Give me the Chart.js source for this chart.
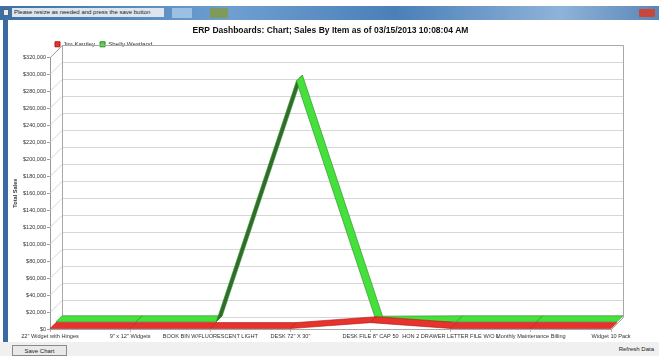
<!DOCTYPE html>
<html lang="en">
<head>
<meta charset="UTF-8">
<title>ERP Dashboards: Chart</title>
<script src="https://cdn.jsdelivr.net/npm/chart.js"></script>
<style>
  body { margin: 0; width: 659px; height: 356px; overflow: hidden; background: #fff;
         font-family: Arial, "Liberation Sans", sans-serif; position: relative; }
  #salesChart { position: absolute; left: 0; top: 0; }
  .titlebar { position: absolute; left: 0; top: 6px; width: 659px; height: 14px;
              background: linear-gradient(to right, #3d6fa6 0%, #6f9fd0 35%, #4a7fb8 60%, #8fb3d8 85%, #5a86b8 100%); }
  .caption { position: absolute; left: 12px; top: 2px; width: 150px; height: 9px; background: #dde6ef;
             font-size: 6px; line-height: 9px; color: #222; padding-left: 2px; white-space: nowrap; }
  .icon { position: absolute; left: 3px; top: 3px; width: 6px; height: 7px; background: #e8eef5; border: 1px solid #567; box-sizing: border-box; }
  .tab1 { position: absolute; left: 172px; top: 2px; width: 20px; height: 10px; background: #9cc0e4; }
  .tab2 { position: absolute; left: 210px; top: 2px; width: 18px; height: 10px; background: #7f9a5a; }
  .close { position: absolute; right: 4px; top: 3px; width: 16px; height: 8px; background: #c8473a; border-radius: 1px; }
  .leftedge { position: absolute; left: 3px; top: 20px; width: 5px; height: 322px; background: #3a6aa3; }
  .bottom { position: absolute; left: 0; top: 342px; width: 659px; height: 14px; background: #f0f0f0; }
  .savebtn { position: absolute; left: 12px; top: 3px; width: 55px; height: 11px; border: 1px solid #8a8a8a;
             background: #e9e9e9; font-size: 6px; line-height: 10px; text-align: center; color: #222; box-sizing: border-box; }
  .refresh { position: absolute; right: 5px; top: 4px; font-size: 6px; color: #222; }
</style>
</head>
<body>
<canvas id="salesChart" width="659" height="356"></canvas>
<div class="titlebar">
  <div class="icon"></div>
  <div class="caption">Please resize as needed and press the save button</div>
  <div class="tab1"></div>
  <div class="tab2"></div>
  <div class="close"></div>
</div>
<div class="leftedge"></div>
<div class="bottom">
  <div class="savebtn">Save Chart</div>
  <div class="refresh">Refresh Data</div>
</div>

<script>
// Items and sales per salesperson
const items = [
  '22" Widget with Hinges',
  '9" x 12" Widgets',
  'BOOK BIN W/FLUORESCENT LIGHT',
  'DESK 72" X 30"',
  'DESK FILE 8" CAP 50',
  'HON 2 DRAWER LETTER FILE W/O L',
  'Monthly Maintenance Billing',
  'Widget 10 Pack'
];
const jimKantley = [500, 500, 500, 500, 7500, 600, 600, 500];
const shellyWestland = [1500, 1500, 1500, 285000, 1000, 1500, 1500, 1500];
const yMax = 320000;
const yStep = 20000;

// 3D box: depth in px, split in one row per series (first series in front)
const DEPTH = 12;

const box3d = {
  id: 'box3d',
  beforeDatasetsDraw(chart) {
    const {ctx, chartArea: a, scales: {y}} = chart;
    ctx.save();
    ctx.lineWidth = 1;
    // back wall gridlines + left wall diagonals
    y.ticks.forEach(t => {
      const py = Math.round(y.getPixelForValue(t.value)) + 0.5;
      ctx.strokeStyle = '#d6d6d6';
      ctx.beginPath();
      ctx.moveTo(a.left, py);
      ctx.lineTo(a.left + DEPTH, py - DEPTH);
      ctx.lineTo(a.right + DEPTH, py - DEPTH);
      ctx.stroke();
    });
    // box edges
    const top = Math.round(a.top) + 0.5, bot = Math.round(a.bottom) + 0.5;
    const l = Math.round(a.left) + 0.5, r = Math.round(a.right) + 0.5;
    ctx.strokeStyle = '#a8a8a8';
    ctx.beginPath();
    ctx.moveTo(l + DEPTH, top - DEPTH);
    ctx.lineTo(l + DEPTH, bot - DEPTH);
    ctx.moveTo(l, top);
    ctx.lineTo(l + DEPTH, top - DEPTH);
    ctx.lineTo(r + DEPTH, top - DEPTH);
    ctx.lineTo(r + DEPTH, bot - DEPTH);
    ctx.lineTo(r, bot);
    ctx.lineTo(l, bot);
    ctx.stroke();
    ctx.restore();
  },
  afterDatasetsDraw(chart) {
    const ctx = chart.ctx;
    const n = chart.data.datasets.length;
    const row = DEPTH / n;
    ctx.save();
    ctx.lineWidth = 0.6;
    ctx.lineJoin = 'round';
    // back row first so the front ribbon covers it
    for (let i = n - 1; i >= 0; i--) {
      const ds = chart.data.datasets[i];
      const pts = chart.getDatasetMeta(i).data;
      const d0 = i * row, d1 = d0 + row;
      for (let k = 0; k < pts.length - 1; k++) {
        const p = pts[k], q = pts[k + 1];
        // facing down when the segment climbs steeper than the depth direction
        const under = -((q.x - p.x) + (q.y - p.y)) > 0;
        ctx.fillStyle = under ? ds.sideColor : ds.backgroundColor;
        ctx.strokeStyle = ds.borderColor;
        ctx.beginPath();
        ctx.moveTo(p.x + d0, p.y - d0);
        ctx.lineTo(q.x + d0, q.y - d0);
        ctx.lineTo(q.x + d1, q.y - d1);
        ctx.lineTo(p.x + d1, p.y - d1);
        ctx.closePath();
        ctx.fill();
        ctx.stroke();
      }
    }
    ctx.restore();
  }
};

new Chart(document.getElementById('salesChart'), {
  type: 'line',
  data: {
    labels: items,
    datasets: [{
      label: 'Jim Kantley',
      data: jimKantley,
      backgroundColor: '#e8322c',
      borderColor: '#a81c18',
      sideColor: '#9a1a16',
      borderWidth: 1,
      showLine: false,
      pointRadius: 0
    }, {
      label: 'Shelly Westland',
      data: shellyWestland,
      backgroundColor: '#46e03c',
      borderColor: '#2a8a24',
      sideColor: '#2f6e2a',
      borderWidth: 1,
      showLine: false,
      pointRadius: 0
    }]
  },
  options: {
    responsive: false,
    animation: false,
    layout: { padding: { left: 10, right: 48, top: 0, bottom: 0 } },
    plugins: {
      title: {
        display: true,
        fullSize: false,
        text: 'ERP Dashboards: Chart; Sales By Item as of 03/15/2013 10:08:04 AM',
        color: '#111',
        font: { family: 'Arial', size: 8.5, weight: 'bold' },
        padding: { top: 26, bottom: 0 }
      },
      legend: {
        display: true,
        fullSize: false,
        align: 'start',
        maxHeight: 25.8,
        labels: {
          boxWidth: 5,
          boxHeight: 5,
          padding: 5,
          color: '#333',
          font: { family: 'Arial', size: 6.2 }
        }
      },
      tooltip: { enabled: false }
    },
    scales: {
      x: {
        offset: false,
        afterFit: s => { s.height = 27; },
        grid: { drawOnChartArea: false, tickLength: 3, color: '#bbb' },
        border: { display: false },
        ticks: {
          autoSkip: false,
          maxRotation: 0,
          padding: 1,
          color: '#333',
          font: { family: 'Arial', size: 5.6 }
        }
      },
      y: {
        min: 0,
        max: yMax,
        afterFit: s => { s.width = 40; },
        grid: { drawOnChartArea: false, tickLength: 3, color: '#999' },
        border: { color: '#999' },
        title: {
          display: true,
          text: 'Total Sales',
          color: '#333',
          font: { family: 'Arial', size: 5.6, weight: 'bold' },
          padding: { top: 2, bottom: 0 }
        },
        ticks: {
          stepSize: yStep,
          padding: 1,
          color: '#333',
          font: { family: 'Arial', size: 5.5 },
          callback: v => '$' + v.toLocaleString('en-US')
        }
      }
    }
  },
  plugins: [box3d]
});
</script>
</body>
</html>
